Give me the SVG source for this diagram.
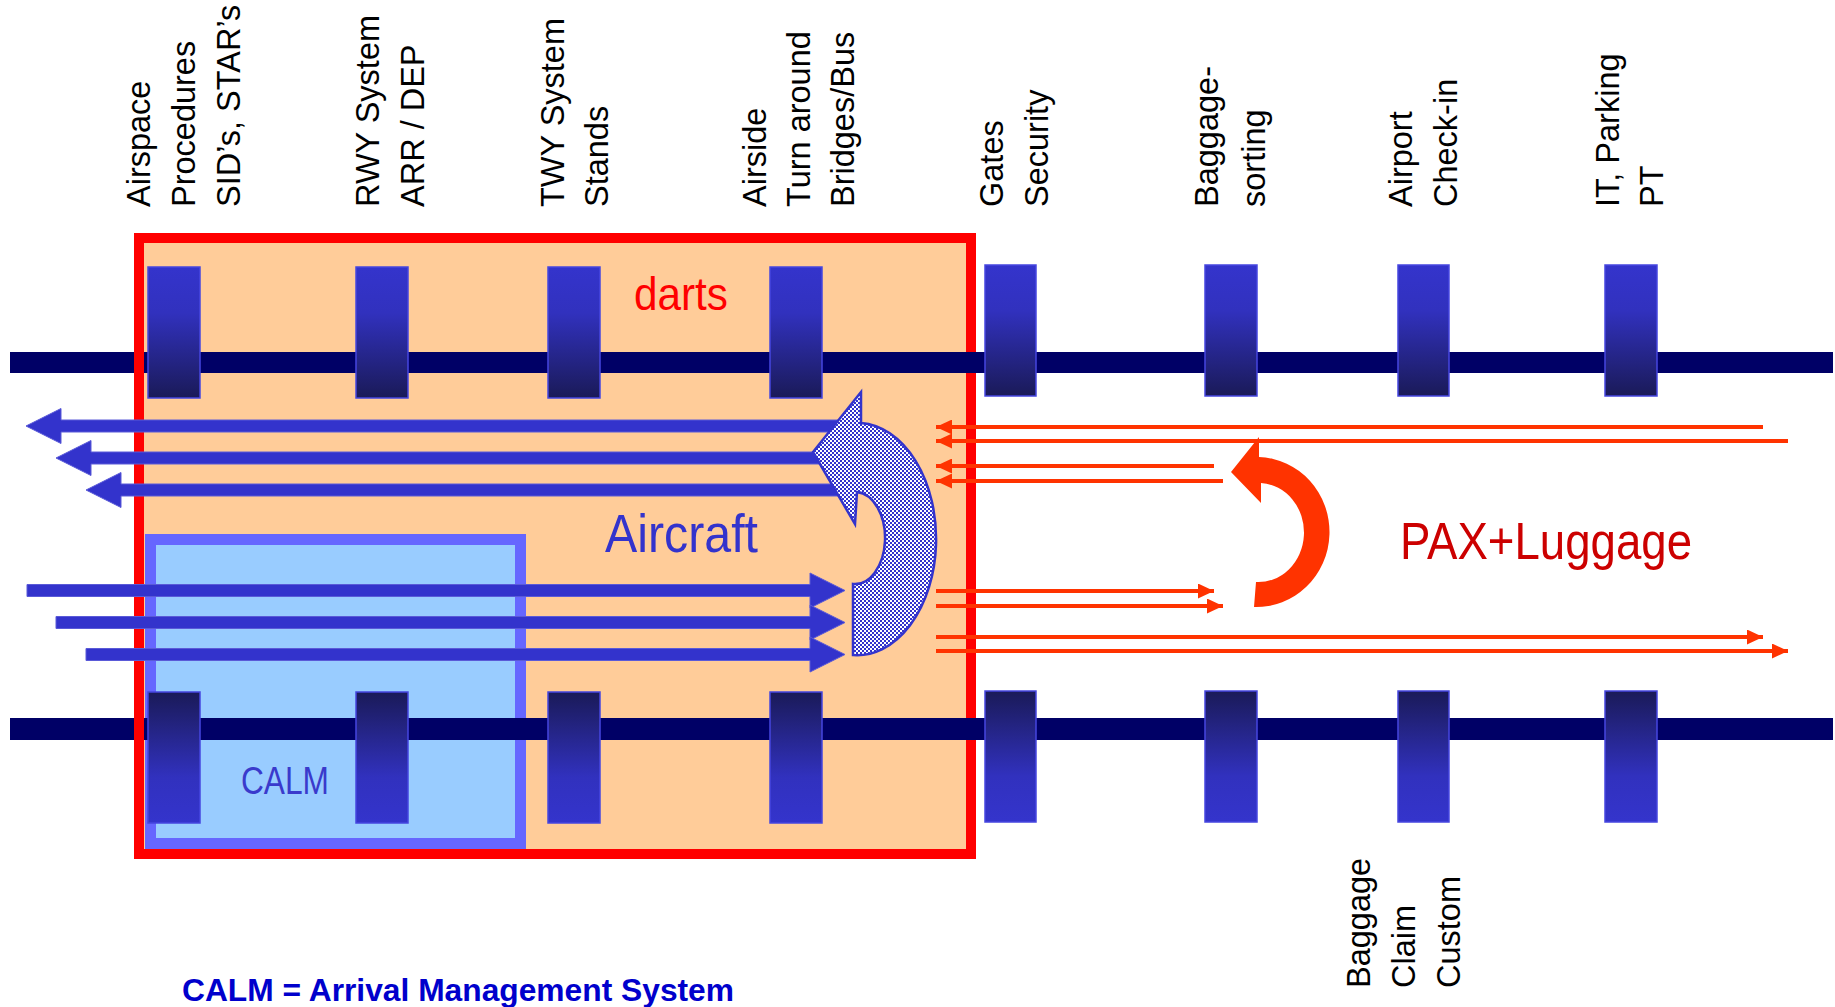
<svg xmlns="http://www.w3.org/2000/svg" width="1835" height="1007" viewBox="0 0 1835 1007">
<defs>
<style>
.lbl{font-family:"Liberation Sans",Arial,sans-serif;font-size:32.5px;fill:#000}
.bar{fill:#000066}
.bt{fill:url(#gTop);stroke:#4646E0;stroke-width:1.5}
.bb{fill:url(#gBot);stroke:#4646E0;stroke-width:1.5}
.ba{fill:#3333CC;stroke:#5A5AD8;stroke-width:1}
.ra{stroke:#FF3300;stroke-width:4;fill:none;marker-end:url(#rh)}
.cond{font-family:"Liberation Sans",Arial,sans-serif}
</style>
<linearGradient id="gTop" x1="0" y1="0" x2="0" y2="1">
<stop offset="0" stop-color="#3434CC"/>
<stop offset="0.35" stop-color="#3131BE"/>
<stop offset="1" stop-color="#1A1A58"/>
</linearGradient>
<linearGradient id="gBot" x1="0" y1="0" x2="0" y2="1">
<stop offset="0" stop-color="#1A1A58"/>
<stop offset="0.65" stop-color="#3131BE"/>
<stop offset="1" stop-color="#3434CC"/>
</linearGradient>
<pattern id="hatch" patternUnits="userSpaceOnUse" width="4" height="4">
<rect width="4" height="4" fill="#FFFFFF"/>
<rect width="2" height="2" fill="#3333CC"/>
<rect x="2" y="2" width="2" height="2" fill="#3333CC"/>
</pattern>
<marker id="rh" markerUnits="userSpaceOnUse" markerWidth="16" markerHeight="15" refX="16" refY="7.5" orient="auto">
<path d="M0,0 L16,7.5 L0,15 Z" fill="#FF3300"/>
</marker>
</defs>
<rect width="1835" height="1007" fill="#FFFFFF"/>

<g id="darts-area">
<rect x="139" y="238" width="832" height="616" fill="#FFCC99"/>
</g>
<g id="calm-box">
<rect x="150.5" y="539.5" width="370" height="304" fill="#99CCFF" stroke="#6666FF" stroke-width="11"/>
</g>
<g id="rails-a">
<rect class="bar" x="10" y="352" width="956" height="21"/>
<rect class="bar" x="10" y="718" width="956" height="22"/>
</g>
<g id="darts-border">
<rect x="139" y="238" width="832" height="616" fill="none" stroke="#FF0000" stroke-width="10"/>
</g>
<g id="rails-b">
<rect class="bar" x="922" y="352" width="911" height="21"/>
<rect class="bar" x="922" y="718" width="911" height="22"/>
</g>

<g id="node-airspace">
<rect class="bt" x="148" y="267" width="52" height="131"/>
<rect class="bb" x="148" y="692" width="52" height="131"/>
<text class="lbl" transform="translate(150,207) rotate(-90)"><tspan x="0" y="0">Airspace</tspan><tspan x="0" y="45">Procedures</tspan><tspan x="0" y="90">SID’s, STAR’s</tspan></text>
</g>
<g id="node-rwy">
<rect class="bt" x="356" y="267" width="52" height="131"/>
<rect class="bb" x="356" y="692" width="52" height="131"/>
<text class="lbl" transform="translate(379,207) rotate(-90)"><tspan x="0" y="0">RWY System</tspan><tspan x="0" y="45">ARR / DEP</tspan></text>
</g>
<g id="node-twy">
<rect class="bt" x="548" y="267" width="52" height="131"/>
<rect class="bb" x="548" y="692" width="52" height="131"/>
<text class="lbl" transform="translate(564,207) rotate(-90)"><tspan x="0" y="0">TWY System</tspan><tspan x="0" y="44">Stands</tspan></text>
</g>
<g id="node-airside">
<rect class="bt" x="770" y="267" width="52" height="131"/>
<rect class="bb" x="770" y="692" width="52" height="131"/>
<text class="lbl" transform="translate(766,207) rotate(-90)"><tspan x="0" y="0">Airside</tspan><tspan x="0" y="44">Turn around</tspan><tspan x="0" y="88">Bridges/Bus</tspan></text>
</g>
<g id="node-gates">
<rect class="bt" x="985" y="265" width="51" height="131"/>
<rect class="bb" x="985" y="691" width="51" height="131"/>
<text class="lbl" transform="translate(1003,207) rotate(-90)"><tspan x="0" y="0">Gates</tspan><tspan x="0" y="45">Security</tspan></text>
</g>
<g id="node-baggage">
<rect class="bt" x="1205" y="265" width="52" height="131"/>
<rect class="bb" x="1205" y="691" width="52" height="131"/>
<text class="lbl" transform="translate(1218,207) rotate(-90)"><tspan x="0" y="0">Baggage-</tspan><tspan x="0" y="47">sorting</tspan></text>
</g>
<g id="node-airport">
<rect class="bt" x="1398" y="265" width="51" height="131"/>
<rect class="bb" x="1398" y="691" width="51" height="131"/>
<text class="lbl" transform="translate(1412,207) rotate(-90)"><tspan x="0" y="0">Airport</tspan><tspan x="0" y="45">Check-in</tspan></text>
<text class="lbl" transform="translate(1370,988) rotate(-90)"><tspan x="0" y="0">Baggage</tspan><tspan x="0" y="45">Claim</tspan><tspan x="0" y="90">Custom</tspan></text>
</g>
<g id="node-it">
<rect class="bt" x="1605" y="265" width="52" height="131"/>
<rect class="bb" x="1605" y="691" width="52" height="131"/>
<text class="lbl" transform="translate(1619,207) rotate(-90)"><tspan x="0" y="0">IT, Parking</tspan><tspan x="0" y="44">PT</tspan></text>
</g>

<g id="titles">
<text class="cond" x="634" y="310" font-size="47" fill="#FF0000" textLength="94" lengthAdjust="spacingAndGlyphs">darts</text>
<text class="cond" x="605" y="552" font-size="54" fill="#3333CC" textLength="153" lengthAdjust="spacingAndGlyphs">Aircraft</text>
<text class="cond" x="241" y="794" font-size="38" fill="#3A3ACC" textLength="88" lengthAdjust="spacingAndGlyphs">CALM</text>
<text class="cond" x="1400" y="559" font-size="52" fill="#CC0000" textLength="292" lengthAdjust="spacingAndGlyphs">PAX+Luggage</text>
<text class="cond" x="182" y="1001" font-size="32" font-weight="bold" fill="#0000CC" textLength="552" lengthAdjust="spacingAndGlyphs">CALM = Arrival Management System</text>
</g>

<g id="connectors">
<polygon class="ba" points="26,426 61,408.5 61,420 845,420 845,432 61,432 61,443.5"/>
<polygon class="ba" points="56,458 91,440.5 91,452 835,452 835,464 91,464 91,475.5"/>
<polygon class="ba" points="86,490 121,472.5 121,484 845,484 845,496 121,496 121,507.5"/>
<polygon class="ba" points="845,590.5 810,573 810,584.5 27,584.5 27,596.5 810,596.5 810,608"/>
<polygon class="ba" points="845,622.5 810,605 810,616.5 56,616.5 56,628.5 810,628.5 810,640"/>
<polygon class="ba" points="845,654.5 810,637 810,648.5 86,648.5 86,660.5 810,660.5 810,672"/>
<path d="M853,655 A79,116 0 0 0 861,423 L861,392 L813,452 L855,524 L857,492 A30,46 0 0 1 853,584 Z" fill="url(#hatch)" stroke="#3333CC" stroke-width="2.5"/>
<line class="ra" x1="1763" y1="427" x2="936" y2="427"/>
<line class="ra" x1="1788" y1="441" x2="936" y2="441"/>
<line class="ra" x1="1214" y1="466" x2="936" y2="466"/>
<line class="ra" x1="1223" y1="481" x2="936" y2="481"/>
<line class="ra" x1="936" y1="591" x2="1214" y2="591"/>
<line class="ra" x1="936" y1="606" x2="1223" y2="606"/>
<line class="ra" x1="936" y1="637" x2="1763" y2="637"/>
<line class="ra" x1="936" y1="651" x2="1788" y2="651"/>
<path d="M1254,607 A73,75 0 0 0 1259,457 L1259,437 L1231,472 L1261,503 L1261,483 A45,49 0 0 1 1256,582 Z" fill="#FF3300"/>
</g>
</svg>
